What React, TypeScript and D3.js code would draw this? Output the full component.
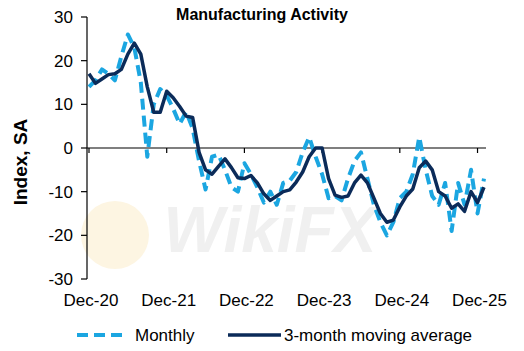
import React from 'react';
import * as d3 from 'd3';

// monthly readings, Dec-20 .. Jan-26
const monthly = [
  14, 15.5, 18, 17, 15.5, 21, 26, 23, 15, -2, 10, 13.5,
  12, 9, 5.5, 8.3, 4.5, -3, -9.5, -2, -1.5, -5, -9, -10,
  -3.5, -6, -9, -12.5, -10, -13, -8, -7.5, -5.5, -1, 2.5, -2,
  -6, -11.5, -11, -12, -7, -3, -1, -7, -13, -17, -20, -17,
  -11.5, -10, -6, 2.5, -5, -11, -13, -8, -19, -8, -13, -5,
  -15, -7,
];

const movingAvg = [
  17, 14.8, 15.8, 16.8, 17, 18, 21.5, 24, 21.5, 14, 8.2, 8.2,
  13, 11.5, 9.5, 7.3, 7, -1, -5, -6, -4.2, -2.5, -4.5, -6.8,
  -7, -6.3, -8, -10.5, -12, -11, -10, -9.6, -7.8, -5.5, -2, 0,
  0, -7, -10.8, -11.3, -11, -8, -6.2, -8, -11.5, -15, -17, -16.5,
  -13.5, -11, -9.4, -4.5, -3, -5, -10, -11, -13.8, -12.8, -14.5, -10,
  -12.5, -9,
];

const tickLabels = ['Dec-20', 'Dec-21', 'Dec-22', 'Dec-23', 'Dec-24', 'Dec-25'];
const yTicks = [30, 20, 10, 0, -10, -20, -30];

const W = 524;
const H = 351;
const font = 'Arial, "Liberation Sans", sans-serif';
const lightBlue = '#1ba6e1';
const navy = '#0b2b59';

export default function App() {
  const x = d3.scaleLinear().domain([0, monthly.length - 1]).range([89, 484]);
  const y = d3.scaleLinear().domain([-30, 30]).range([279, 17]);

  const line = d3.line<number>().x((_, i) => x(i)).y(d => y(d));

  const axisX = 87;
  const zeroY = y(0);

  return (
    <svg width={W} height={H} style={{ position: 'absolute', left: 0, top: 0 }}>
      <rect width={W} height={H} fill="#fff" />
      {/* faint watermark */}
      <circle cx={115} cy={235} r={34} fill="#fdf5e2" />
      <text x={270} y={252} textAnchor="middle" fontFamily={font} fontWeight="bold" fontStyle="italic"
        fontSize={64} fill="#f0f0f0">WikiFX</text>

      <text x={262} y={20} textAnchor="middle" fontFamily={font} fontWeight="bold" fontSize={16}>
        Manufacturing Activity
      </text>
      <text transform={`translate(27,162) rotate(-90)`} textAnchor="middle" fontFamily={font}
        fontWeight="bold" fontSize={19}>Index, SA</text>

      {/* y axis */}
      <line x1={axisX} x2={axisX} y1={y(30)} y2={y(-30)} stroke="#000" strokeWidth={1.2} />
      {yTicks.map(t => (
        <g key={t}>
          <line x1={axisX - 6} x2={axisX} y1={y(t)} y2={y(t)} stroke="#000" strokeWidth={1.2} />
          <text x={73} y={y(t)} dy="0.35em" textAnchor="end" fontFamily={font} fontSize={17}>{t}</text>
        </g>
      ))}

      {/* x axis at zero */}
      <line x1={axisX} x2={486} y1={zeroY} y2={zeroY} stroke="#000" strokeWidth={1.2} />
      {tickLabels.map((l, k) => (
        <g key={l}>
          <line x1={x(k * 12)} x2={x(k * 12)} y1={zeroY} y2={zeroY + 5} stroke="#000" strokeWidth={1.2} />
          <text x={x(k * 12) + 2} y={306} textAnchor="middle" fontFamily={font} fontSize={17}>{l}</text>
        </g>
      ))}

      <path d={line(monthly) || ''} fill="none" stroke={lightBlue} strokeWidth={4}
        strokeDasharray="11,6" strokeLinejoin="round" />
      <path d={line(movingAvg) || ''} fill="none" stroke={navy} strokeWidth={3.5}
        strokeLinejoin="round" />

      {/* legend */}
      <line x1={77} x2={125} y1={335} y2={335} stroke={lightBlue} strokeWidth={4} strokeDasharray="11,6" />
      <text x={135} y={341} fontFamily={font} fontSize={17}>Monthly</text>
      <line x1={228} x2={281} y1={335} y2={335} stroke={navy} strokeWidth={3.5} />
      <text x={284} y={341} fontFamily={font} fontSize={17}>3-month moving average</text>
    </svg>
  );
}
